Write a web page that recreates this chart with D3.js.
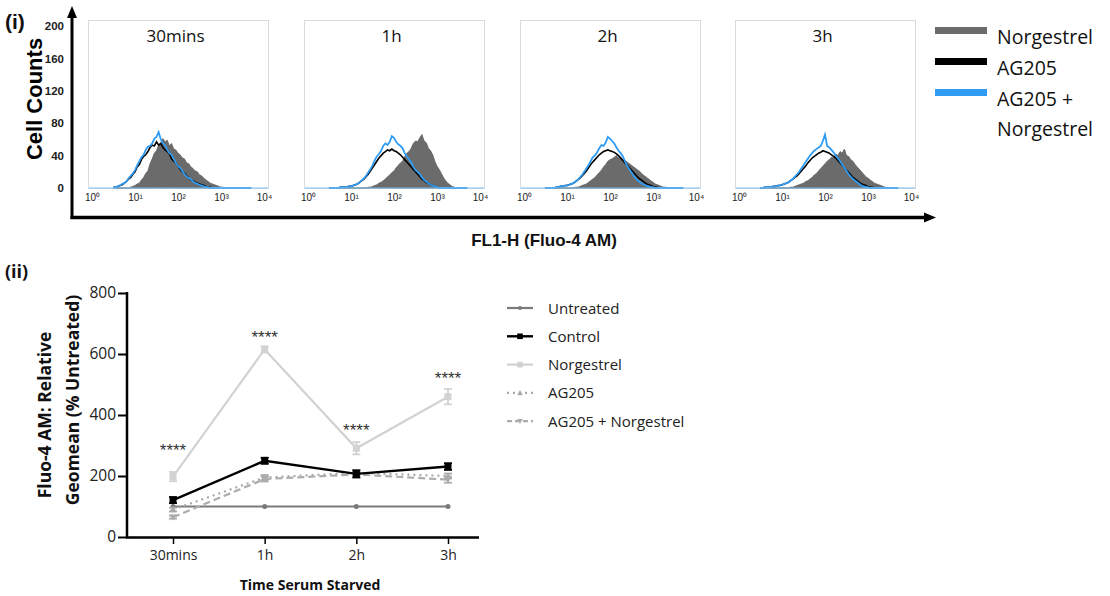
<!DOCTYPE html>
<html><head><meta charset="utf-8">
<script src="https://cdn.jsdelivr.net/npm/d3@7"></script>
<style>
body{margin:0;background:#fff;}
svg{display:block;}
</style></head>
<body>
<svg id="c" width="1110" height="596"></svg>
<script>
// ---------- DATA: panel (i) histograms ----------
const panelTitles = ["30mins", "1h", "2h", "3h"];
const histLegend = ["Norgestrel", "AG205", "AG205 +", "Norgestrel"];
const countTicks = [0, 40, 80, 120, 160, 200];
const decadeTicks = [1, 10, 100, 1000, 10000];
// bin centres: log10(FL1-H)
const binLogs = [0.5,0.55,0.6,0.65,0.7,0.75,0.8,0.85,0.9,0.95,
  1.0,1.05,1.1,1.15,1.2,1.25,1.3,1.35,1.4,1.45,
  1.5,1.55,1.6,1.65,1.7,1.75,1.8,1.85,1.9,1.95,
  2.0,2.05,2.1,2.15,2.2,2.25,2.3,2.35,2.4,2.45,
  2.5,2.55,2.6,2.65,2.7,2.75,2.8,2.85,2.9,2.95,
  3.0,3.05,3.1,3.15,3.2,3.25,3.3,3.35,3.4,3.45,
  3.5,3.55,3.6,3.65,3.7];
const norg30 = [0,0,0,0,0,0,0,0,1,2, 3,5,6,10,13,18,21,30,36,43, 46,53,56,61,57,59,52,55,48,47, 43,41,37,36,31,30,26,24,21,20, 16,15,12,10,8,6,5,4,3,2, 1,1,0,0,0,0,0,0,0,0, 0,0,0,0,0];
const ag30   = [1,1,2,3,4,6,8,11,13,17, 20,26,29,35,39,41,45,50,53,52, 57,53,55,50,47,45,42,36,33,31, 27,23,20,18,15,12,10,9,7,6, 5,4,3,2,1,1,0,0,0,0, 0,0,0,0,0,0,0,0,0,0, 0,0,0,0,0];
const agN30  = [1,1,2,3,5,6,8,12,15,18, 22,28,33,38,41,47,51,52,55,61, 63,69,60,55,53,47,43,41,36,31, 27,25,21,17,14,12,11,8,6,5, 4,3,2,1,1,0,0,0,0,0, 0,0,0,0,0,0,0,0,0,0, 0,0,0,0,0];
const norg1h = [0,0,0,0,0,0,0,0,0,0, 0,0,0,0,0,0,0,0,1,1, 2,3,4,6,7,9,11,14,16,19, 21,25,28,31,33,39,43,45,49,55, 58,57,62,66,58,56,49,46,41,33, 27,23,18,13,9,6,4,2,1,0, 0,0,0,0,0];
const ag1h   = [0,0,0,0,0,1,1,1,1,2, 2,3,4,5,7,9,11,14,17,21, 25,29,33,37,40,43,45,47,46,48, 46,45,43,41,38,35,32,29,26,23, 20,17,14,11,9,7,6,4,3,2, 1,0,0,0,0,0,0,0,0,0, 0,0,0,0,0];
const agN1h  = [0,0,0,0,0,1,1,1,1,2, 2,3,4,5,7,9,12,15,19,23, 28,34,39,42,46,52,55,53,57,64, 62,57,54,52,49,43,39,35,32,26, 22,20,17,13,10,8,6,4,3,2, 1,0,0,0,0,0,0,0,0,0, 0,0,0,0,0];
const norg2h = [0,0,0,0,0,0,0,0,0,0, 0,0,0,0,1,1,2,3,4,5, 7,9,11,13,16,19,22,26,29,33, 35,36,38,40,37,38,35,34,32,30, 28,26,24,22,20,17,15,13,11,9, 7,5,4,3,2,1,1,0,0,0, 0,0,0,0,0];
const ag2h   = [0,0,0,0,0,1,1,2,2,3, 3,4,5,6,8,10,12,15,18,21, 25,29,32,35,38,41,43,45,46,47, 46,45,44,42,40,37,34,31,28,25, 22,19,16,13,11,9,7,5,4,3, 2,1,1,0,0,0,0,0,0,0, 0,0,0,0,0];
const agN2h  = [0,0,0,0,0,1,1,2,2,3, 3,4,5,6,8,10,13,16,20,24, 28,33,38,40,44,49,53,52,56,63, 61,58,55,50,46,43,39,33,27,23, 19,15,12,9,7,5,4,3,2,1, 1,0,0,0,0,0,0,0,0,0, 0,0,0,0,0];
const norg3h = [0,0,0,0,0,0,0,0,0,0, 0,0,0,0,1,1,2,3,4,5, 6,8,9,11,13,16,18,21,24,27, 30,33,35,38,37,42,40,45,43,48, 40,39,35,33,29,26,23,20,17,14, 12,10,8,6,5,4,3,2,1,0, 0,0,0,0,0];
const ag3h   = [0,0,1,1,1,1,2,2,3,3, 4,5,6,7,9,11,13,15,18,21, 24,27,31,34,37,39,41,43,44,46, 45,44,43,41,39,37,34,31,28,25, 22,19,16,13,11,9,7,5,4,3, 2,1,1,0,0,0,0,0,0,0, 0,0,0,0,0];
const agN3h  = [0,0,1,1,1,1,2,2,3,3, 4,5,6,7,9,11,14,17,20,24, 28,32,36,40,43,46,48,50,52,58, 66,52,50,47,44,40,37,33,29,25, 21,17,14,11,9,7,5,3,2,1, 1,0,0,0,0,0,0,0,0,0, 0,0,0,0,0];
const histNorg = [norg30, norg1h, norg2h, norg3h];
const histAG = [ag30, ag1h, ag2h, ag3h];
const histAGN = [agN30, agN1h, agN2h, agN3h];

// ---------- DATA: panel (ii) line chart ----------
const categories = ["30mins", "1h", "2h", "3h"];
const valueTicks = [0, 200, 400, 600, 800];
const untreated = [100, 100, 100, 100];
const untreatedErr = [0, 0, 0, 0];
const control = [121, 250, 207, 231];
const controlErr = [10, 10, 12, 11];
const norgestrel = [198, 615, 291, 460];
const norgestrelErr = [15, 10, 20, 25];
const ag205 = [90, 195, 210, 200];
const ag205Err = [6, 8, 6, 8];
const ag205Norg = [65, 190, 205, 188];
const ag205NorgErr = [5, 8, 6, 10];
const sigLevels = [300, 668, 365, 535];
const sigLabels = ["****", "****", "****", "****"];
const lineNames = ["Untreated", "Control", "Norgestrel", "AG205", "AG205 + Norgestrel"];

// ---------- DRAW ----------
const svg = d3.select("#c");
const GREY = "#6b6b6b", BLUE = "#2f9bf2";

svg.append("text").attr("x", 5).attr("y", 29).text("(i)")
  .attr("font-family", "Liberation Sans, Arial").attr("font-weight", "bold").attr("font-size", 21).attr("fill", "#111");
svg.append("text").attr("x", 5).attr("y", 278).text("(ii)")
  .attr("font-family", "Open Sans").attr("font-weight", "bold").attr("font-size", 18).attr("fill", "#111");

// ---- top panel ----
const yC = d3.scaleLinear().domain([0, 200]).range([188, 26]);
const panelX = [88, 304, 520, 735];
const panelW = 181;

svg.append("line").attr("x1", 72).attr("x2", 72).attr("y1", 219).attr("y2", 16)
  .attr("stroke", "#000").attr("stroke-width", 3);
svg.append("path").attr("d", "M72,6 L67,18 L77,18 Z").attr("fill", "#000");
svg.append("line").attr("x1", 70.5).attr("x2", 926).attr("y1", 217.5).attr("y2", 217.5)
  .attr("stroke", "#000").attr("stroke-width", 3.5);
svg.append("path").attr("d", "M936,217.5 L924,212.5 L924,222.5 Z").attr("fill", "#000");

const yAx = svg.append("g").attr("transform", "translate(65,0)")
  .call(d3.axisLeft(yC).tickValues(countTicks).tickSize(0).tickPadding(1));
yAx.select(".domain").remove();
yAx.selectAll("text").attr("font-family", "Liberation Sans, Arial").attr("font-weight", "bold")
  .attr("font-size", 11.5).attr("fill", "#222");

svg.append("text").attr("transform", "translate(42,99) rotate(-90)").attr("text-anchor", "middle")
  .attr("font-family", "Liberation Sans, Arial").attr("font-weight", "bold").attr("font-size", 22)
  .attr("fill", "#000").text("Cell Counts");

const sup = {"0":"\u2070","1":"\u00b9","2":"\u00b2","3":"\u00b3","4":"\u2074"};
panelX.forEach((px, i) => {
  const g = svg.append("g");
  const xs = d3.scaleLog().domain([1, 1e4]).range([px + 4, px + panelW - 5]);
  g.append("rect").attr("x", px + 0.5).attr("y", 20.5).attr("width", panelW - 1).attr("height", 168)
    .attr("fill", "none").attr("stroke", "#d6dbe0").attr("stroke-width", 1);
  const pts = (arr) => arr.map((v, k) => [xs(Math.pow(10, binLogs[k])), yC(v)]);
  const area = d3.area().x(d => d[0]).y0(yC(0)).y1(d => d[1]);
  const line = d3.line().x(d => d[0]).y(d => d[1]);
  g.append("path").attr("d", area(pts(histNorg[i]))).attr("fill", GREY).attr("stroke", "#5e5e5e").attr("stroke-width", 0.8);
  g.append("path").attr("d", line(pts(histAG[i]))).attr("fill", "none").attr("stroke", "#000").attr("stroke-width", 1.6);
  g.append("path").attr("d", line(pts(histAGN[i]))).attr("fill", "none").attr("stroke", BLUE).attr("stroke-width", 1.8);
  g.append("line").attr("x1", px + 1).attr("x2", px + panelW - 1).attr("y1", 188).attr("y2", 188)
    .attr("stroke", "#7fc0f2").attr("stroke-width", 1.2);
  const ax = g.append("g").attr("transform", "translate(0,194)")
    .call(d3.axisBottom(xs).tickValues(decadeTicks).tickSize(0).tickPadding(0)
      .tickFormat(d => "10" + sup[String(Math.round(Math.log10(d)))]));
  ax.select(".domain").remove();
  ax.selectAll("text").attr("font-family", "Liberation Sans, Arial").attr("font-size", 10).attr("fill", "#222");
  g.append("text").attr("x", px + panelW / 2 - 3).attr("y", 42).attr("text-anchor", "middle")
    .attr("font-family", "Open Sans").attr("font-size", 17).attr("fill", "#111").text(panelTitles[i]);
});

svg.append("text").attr("x", 544).attr("y", 246).attr("text-anchor", "middle")
  .attr("font-family", "Liberation Sans, Arial").attr("font-weight", "bold").attr("font-size", 17)
  .attr("fill", "#111").text("FL1-H (Fluo-4 AM)");

const hlColors = [GREY, "#000", BLUE];
hlColors.forEach((c, i) => {
  svg.append("rect").attr("x", 935).attr("y", 27 + i * 31).attr("width", 52).attr("height", 7).attr("fill", c);
});
histLegend.forEach((t, i) => {
  svg.append("text").attr("x", 997).attr("y", [44, 75, 106, 136][i])
    .attr("font-family", "Open Sans").attr("font-size", 19.5).attr("fill", "#111").text(t);
});

// ---- bottom panel ----
const xP = d3.scalePoint().domain(categories).range([173, 448]);
const yV = d3.scaleLinear().domain([0, 800]).range([537, 293]);
const FONT2 = "Open Sans";

const yAx2 = svg.append("g").attr("transform", "translate(127,0)")
  .call(d3.axisLeft(yV).tickValues(valueTicks).tickSize(9).tickPadding(2).tickSizeOuter(0));
yAx2.select(".domain").attr("stroke-width", 2.5).attr("d", "M0,537.5V292");
yAx2.selectAll(".tick line").attr("stroke-width", 2);
yAx2.selectAll("text").attr("font-family", FONT2).attr("font-size", 15.5).attr("fill", "#222");

svg.append("line").attr("x1", 126).attr("x2", 479).attr("y1", 537.5).attr("y2", 537.5)
  .attr("stroke", "#000").attr("stroke-width", 2.5);
const xAx2 = svg.append("g").attr("transform", "translate(0,538)")
  .call(d3.axisBottom(xP).tickSize(6).tickPadding(6));
xAx2.select(".domain").remove();
xAx2.selectAll(".tick line").attr("stroke-width", 1.5);
xAx2.selectAll("text").attr("font-family", FONT2).attr("font-size", 14).attr("fill", "#222");

svg.append("text").attr("x", 310).attr("y", 590).attr("text-anchor", "middle")
  .attr("font-family", FONT2).attr("font-weight", "bold").attr("font-size", 14).attr("fill", "#111")
  .text("Time Serum Starved");
svg.append("text").attr("transform", "translate(51,415) rotate(-90)").attr("text-anchor", "middle")
  .attr("font-family", FONT2).attr("font-weight", "bold").attr("font-size", 17.5).attr("fill", "#111")
  .text("Fluo-4 AM: Relative");
svg.append("text").attr("transform", "translate(79,400) rotate(-90)").attr("text-anchor", "middle")
  .attr("font-family", FONT2).attr("font-weight", "bold").attr("font-size", 17.5).attr("fill", "#111")
  .text("Geomean (% Untreated)");

const series = [
  {name: lineNames[0], vals: untreated, err: untreatedErr, color: "#7a7a7a", dash: null, w: 2.2, marker: "circle", ms: 2.5},
  {name: lineNames[2], vals: norgestrel, err: norgestrelErr, color: "#d2d2d2", dash: null, w: 2.2, marker: "square", ms: 3.5},
  {name: lineNames[3], vals: ag205, err: ag205Err, color: "#a8a8a8", dash: "2,4", w: 2.2, marker: "triUp", ms: 3.5},
  {name: lineNames[4], vals: ag205Norg, err: ag205NorgErr, color: "#acacac", dash: "7,4", w: 2.2, marker: "triDown", ms: 3.5},
  {name: lineNames[1], vals: control, err: controlErr, color: "#000", dash: null, w: 2.4, marker: "square", ms: 3.5}
];

function drawMarker(g, type, x, y, s, color) {
  if (type === "circle") g.append("circle").attr("cx", x).attr("cy", y).attr("r", s).attr("fill", color);
  else if (type === "square") g.append("rect").attr("x", x - s).attr("y", y - s).attr("width", 2 * s).attr("height", 2 * s).attr("fill", color);
  else if (type === "triUp") g.append("path").attr("d", `M${x},${y - s} L${x + s},${y + s * 0.8} L${x - s},${y + s * 0.8}Z`).attr("fill", color);
  else g.append("path").attr("d", `M${x},${y + s} L${x + s},${y - s * 0.8} L${x - s},${y - s * 0.8}Z`).attr("fill", color);
}

const lineGen = d3.line().x((d, i) => xP(categories[i])).y(d => yV(d));
series.forEach(s => {
  const g = svg.append("g");
  const p = g.append("path").attr("d", lineGen(s.vals)).attr("fill", "none")
    .attr("stroke", s.color).attr("stroke-width", s.w);
  if (s.dash) p.attr("stroke-dasharray", s.dash);
  s.vals.forEach((v, i) => {
    const x = xP(categories[i]);
    if (s.err[i] > 0) {
      const y1 = yV(v + s.err[i]), y2 = yV(v - s.err[i]);
      g.append("line").attr("x1", x).attr("x2", x).attr("y1", y1).attr("y2", y2).attr("stroke", s.color).attr("stroke-width", 1.8);
      [y1, y2].forEach(yy => g.append("line").attr("x1", x - 4).attr("x2", x + 4).attr("y1", yy).attr("y2", yy)
        .attr("stroke", s.color).attr("stroke-width", 1.8));
    }
    drawMarker(g, s.marker, x, yV(v), s.ms, s.color);
  });
});

categories.forEach((c, i) => {
  svg.append("text").attr("x", xP(c)).attr("y", yV(sigLevels[i]) + 10).attr("text-anchor", "middle")
    .attr("font-family", "Liberation Sans, Arial").attr("font-size", 17).attr("fill", "#333")
    .text(sigLabels[i]);
});

const legOrder = [0, 4, 1, 2, 3];
legOrder.forEach((si, r) => {
  const s = series[si];
  const y = 308 + r * 28.3;
  const g = svg.append("g");
  const l = g.append("line").attr("x1", 507).attr("x2", 533).attr("y1", y).attr("y2", y)
    .attr("stroke", s.color).attr("stroke-width", s.w);
  if (s.dash) l.attr("stroke-dasharray", s.dash === "2,4" ? "2,4" : "5,3");
  drawMarker(g, s.marker, 520, y, s.ms * 0.8, s.color);
  g.append("text").attr("x", 548).attr("y", y + 5.5).attr("font-family", FONT2).attr("font-size", 15)
    .attr("fill", "#222").text(s.name);
});
</script>
</body></html>
